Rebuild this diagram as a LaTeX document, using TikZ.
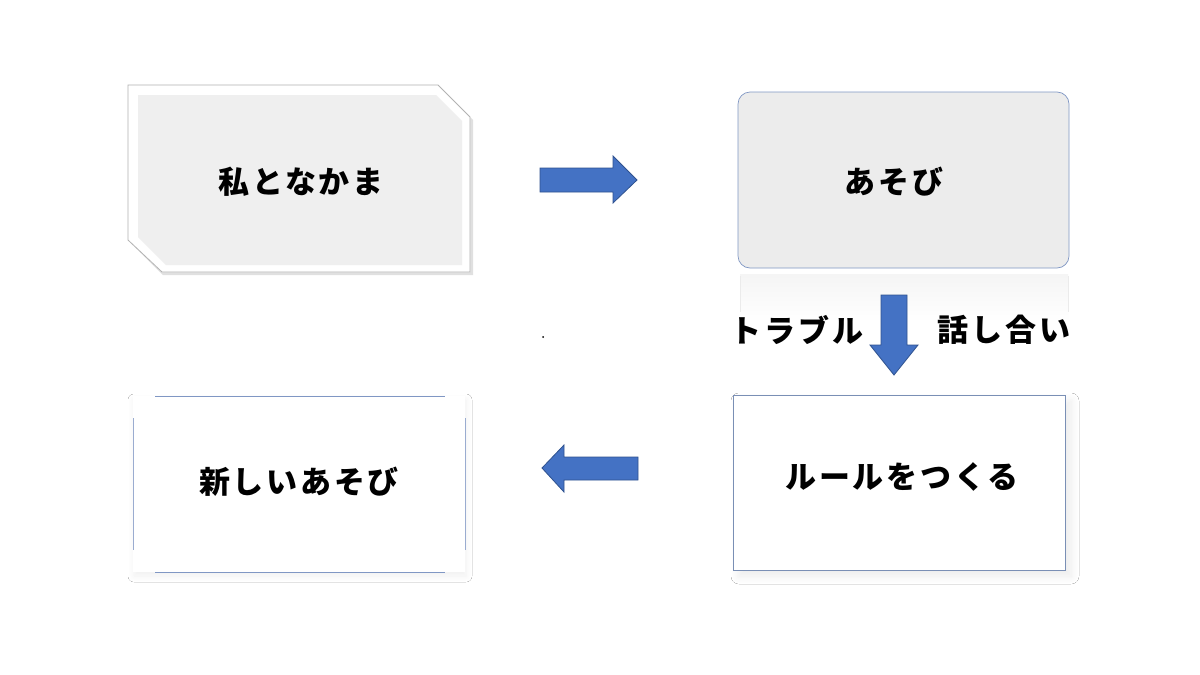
\documentclass[tikz,border=0pt]{standalone}
\usepackage{fontspec}
\newfontfamily\jp[LetterSpace=9]{Noto Sans CJK JP}
\usetikzlibrary{shadows.blur}
\definecolor{arrowfill}{HTML}{4472C4}
\definecolor{arrowline}{HTML}{2F528F}
\definecolor{boxgray}{HTML}{EFEFEF}
\definecolor{boxgrayb}{HTML}{ECECEC}
\definecolor{edgeblue}{HTML}{8097C4}
\definecolor{edgeblue2}{HTML}{7A8FB5}
\tikzset{
  lbl/.style={font=\jp\bfseries\fontsize{31}{33}\selectfont, text=black, inner sep=0pt},
  blockarrow/.style={fill=arrowfill, draw=arrowline, line width=0.8pt, line join=miter},
}
\begin{document}
\begin{tikzpicture}[x=1pt,y=-1pt]
\useasboundingbox (0,0) rectangle (1200,675);
\fill[white] (0,0) rectangle (1200,675);

% Box 1: snipped-corner frame
\fill[black!12] (130,87) -- (440,87) -- (473,120) -- (473,275) -- (163,275) -- (130,242) -- cycle;
\draw[white, fill=white, line width=0.5pt] (128,85) -- (438,85) -- (470,117) -- (470,272) -- (162,272) -- (128,240) -- cycle;
\draw[black!30, line width=0.8pt] (128,85) -- (438,85) -- (470,117) -- (470,272) -- (162,272) -- (128,240) -- cycle;
\fill[boxgray] (138,95) -- (436,95) -- (462,121) -- (462,265) -- (166,265) -- (138,237) -- cycle;
\node[lbl] (b1) at (301,182) {私となかま};

% Box 2: rounded grey box with reflection
\shade[top color=black!4, bottom color=white] (740,274) rectangle (1068,322);
\draw[black!8, line width=0.6pt] (740,276) -- (740,312);
\draw[black!8, line width=0.6pt] (1068,276) -- (1068,312);
\filldraw[fill=boxgrayb, draw=edgeblue, line width=0.7pt, rounded corners=12pt] (738,92) rectangle (1069,268);
\node[lbl] (b2) at (894,182) {あそび};

% Down arrow and labels
\filldraw[blockarrow] (881,295) -- (907,295) -- (907,345) -- (918,345) -- (894,375) -- (870,345) -- (881,345) -- cycle;
\node[lbl] (t1) at (797,330) {トラブル};
\node[lbl] (t2) at (1004,330) {話し合い};

% Box 4: plain rectangle with soft shadow
\node[draw=edgeblue2, line width=0.8pt, fill=white, minimum width=332pt, minimum height=175pt, inner sep=0pt,
  blur shadow={shadow xshift=6pt, shadow yshift=-6pt, shadow opacity=8, shadow blur steps=14, shadow blur radius=8pt}] (b4box) at (899,482.5) {};
\node[lbl] (b4) at (902,477) {ルールをつくる};

% Box 3: white box with blue edges only
\node[fill=white, minimum width=332pt, minimum height=176pt, inner sep=0pt,
  blur shadow={shadow xshift=1pt, shadow yshift=-4pt, shadow opacity=6, shadow blur steps=12, shadow blur radius=6pt}] (b3box) at (299,484) {};
\draw[edgeblue, line width=1pt] (155,396) -- (445,396);
\draw[edgeblue, line width=1pt] (155,572) -- (445,572);
\draw[edgeblue!80, line width=0.8pt] (133,418) -- (133,550);
\draw[edgeblue!80, line width=0.8pt] (465,418) -- (465,550);
\node[lbl] (b3) at (299,482) {新しいあそび};

% Right arrow
\filldraw[blockarrow] (540,168) -- (613,168) -- (613,156) -- (637,180) -- (613,203) -- (613,192) -- (540,192) -- cycle;
% Left arrow
\filldraw[blockarrow] (638,457) -- (564,457) -- (564,445) -- (542,468) -- (564,492) -- (564,480) -- (638,480) -- cycle;

% small dot
\fill[black] (543,337) circle (1pt);
\end{tikzpicture}
\end{document}
